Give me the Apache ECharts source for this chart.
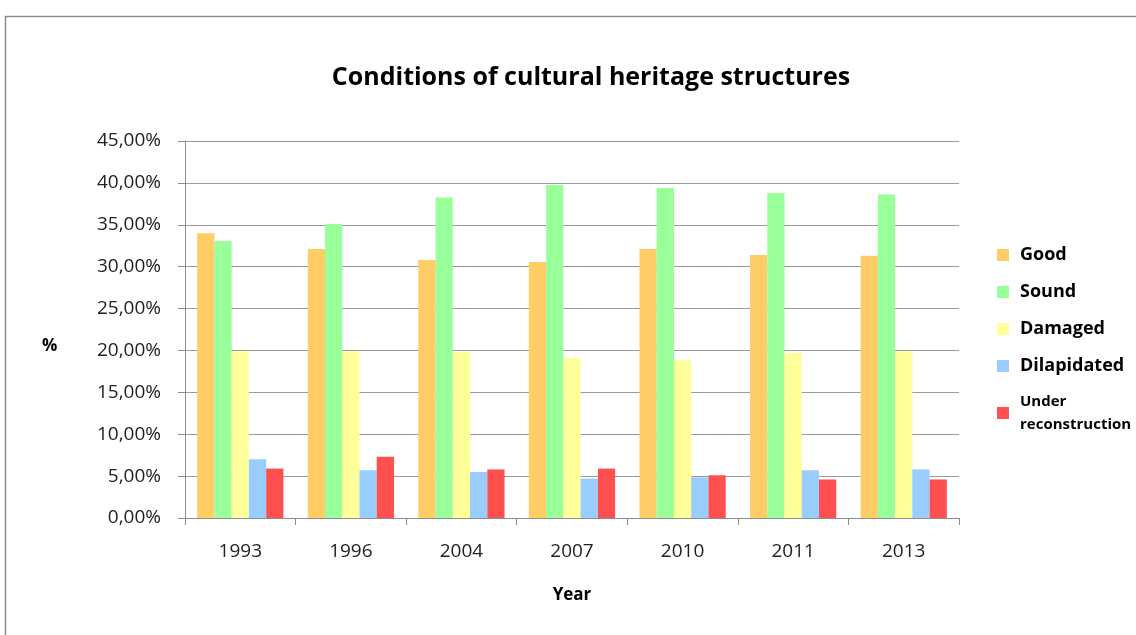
<!DOCTYPE html>
<html>
<head>
<meta charset="utf-8">
<script src="https://cdn.jsdelivr.net/npm/echarts@6/dist/echarts.min.js"></script>
<style>
  html, body { margin: 0; padding: 0; background: #fff; }
  #chart { width: 1136px; height: 635px; }
</style>
</head>
<body>
<div id="chart"></div>
<script>
const years = ['1993', '1996', '2004', '2007', '2010', '2011', '2013']
const good = [34.0, 32.1, 30.8, 30.55, 32.1, 31.4, 31.3]
const sound = [33.05, 35.1, 38.25, 39.75, 39.4, 38.8, 38.6]
const damaged = [19.9, 19.9, 19.8, 19.1, 18.85, 19.7, 19.9]
const dilapidated = [7.0, 5.7, 5.5, 4.7, 4.85, 5.7, 5.8]
const underReconstruction = [5.9, 7.3, 5.8, 5.9, 5.1, 4.6, 4.6]

const colors = ['#ffcc66', '#99ff99', '#ffff99', '#99ccff', '#ff5050']
const font = '"Open Sans", "Noto Sans", sans-serif'

const chart = echarts.init(document.getElementById('chart'))

function bar(name, data) {
  return {
    name,
    type: 'bar',
    data,
    barGap: '0%',
    barCategoryGap: '22%',
    animation: false
  }
}

chart.setOption({
  color: colors,
  title: {
    text: 'Conditions of cultural heritage structures',
    left: 586,
    top: 60,
    textAlign: 'center',
    textStyle: { fontFamily: font, fontWeight: 'bold', fontSize: 25, color: '#000' }
  },
  graphic: [{
    type: 'rect',
    shape: { x: 5.5, y: 16.5, width: 1200, height: 700 },
    style: { fill: 'none', stroke: '#8c8c8c', lineWidth: 1.5 },
    silent: true
  }, {
    // y axis title sits a bit below the middle in the original
    type: 'text',
    left: 42,
    top: 338,
    style: { text: '%', fontFamily: font, fontWeight: 'bold', fontSize: 17, fill: '#000' },
    silent: true
  }],
  legend: {
    orient: 'vertical',
    left: 992,
    top: 241,
    itemWidth: 12,
    itemHeight: 12,
    itemGap: 19,
    icon: 'rect',
    textStyle: {
      fontFamily: font, fontWeight: 'bold', fontSize: 18, color: '#000', padding: [0, 0, 0, 6],
      rich: { s: { fontFamily: font, fontWeight: 'bold', fontSize: 15, color: '#000', lineHeight: 23 } }
    },
    formatter: function (name) {
      if (name === 'Under reconstruction') return '{s|Under}\n{s|reconstruction}'
      return name
    },
    data: ['Good', 'Sound', 'Damaged', 'Dilapidated', 'Under reconstruction']
  },
  grid: { left: 185, right: 177, top: 141, bottom: 117 },
  xAxis: {
    type: 'category',
    data: years,
    name: 'Year',
    nameLocation: 'middle',
    nameGap: 69,
    nameTextStyle: { fontFamily: font, fontWeight: 'bold', fontSize: 17, color: '#000' },
    axisLine: { lineStyle: { color: '#8c8c8c', width: 1 } },
    axisTick: { show: true, length: 7, lineStyle: { color: '#8c8c8c' } },
    axisLabel: { fontFamily: font, fontSize: 19, color: '#222', margin: 24 }
  },
  yAxis: {
    type: 'value',
    min: 0,
    max: 45,
    interval: 5,
    axisLine: { show: true, lineStyle: { color: '#8c8c8c', width: 1 } },
    axisTick: { show: true, length: 7, lineStyle: { color: '#8c8c8c' } },
    axisLabel: {
      fontFamily: font, fontSize: 19, color: '#222', margin: 24,
      formatter: v => v.toFixed(2).replace('.', ',') + '%'
    },
    splitLine: { lineStyle: { color: '#9a9a9a', width: 1 } }
  },
  series: [
    bar('Good', good),
    bar('Sound', sound),
    bar('Damaged', damaged),
    bar('Dilapidated', dilapidated),
    bar('Under reconstruction', underReconstruction)
  ]
})
</script>
</body>
</html>
